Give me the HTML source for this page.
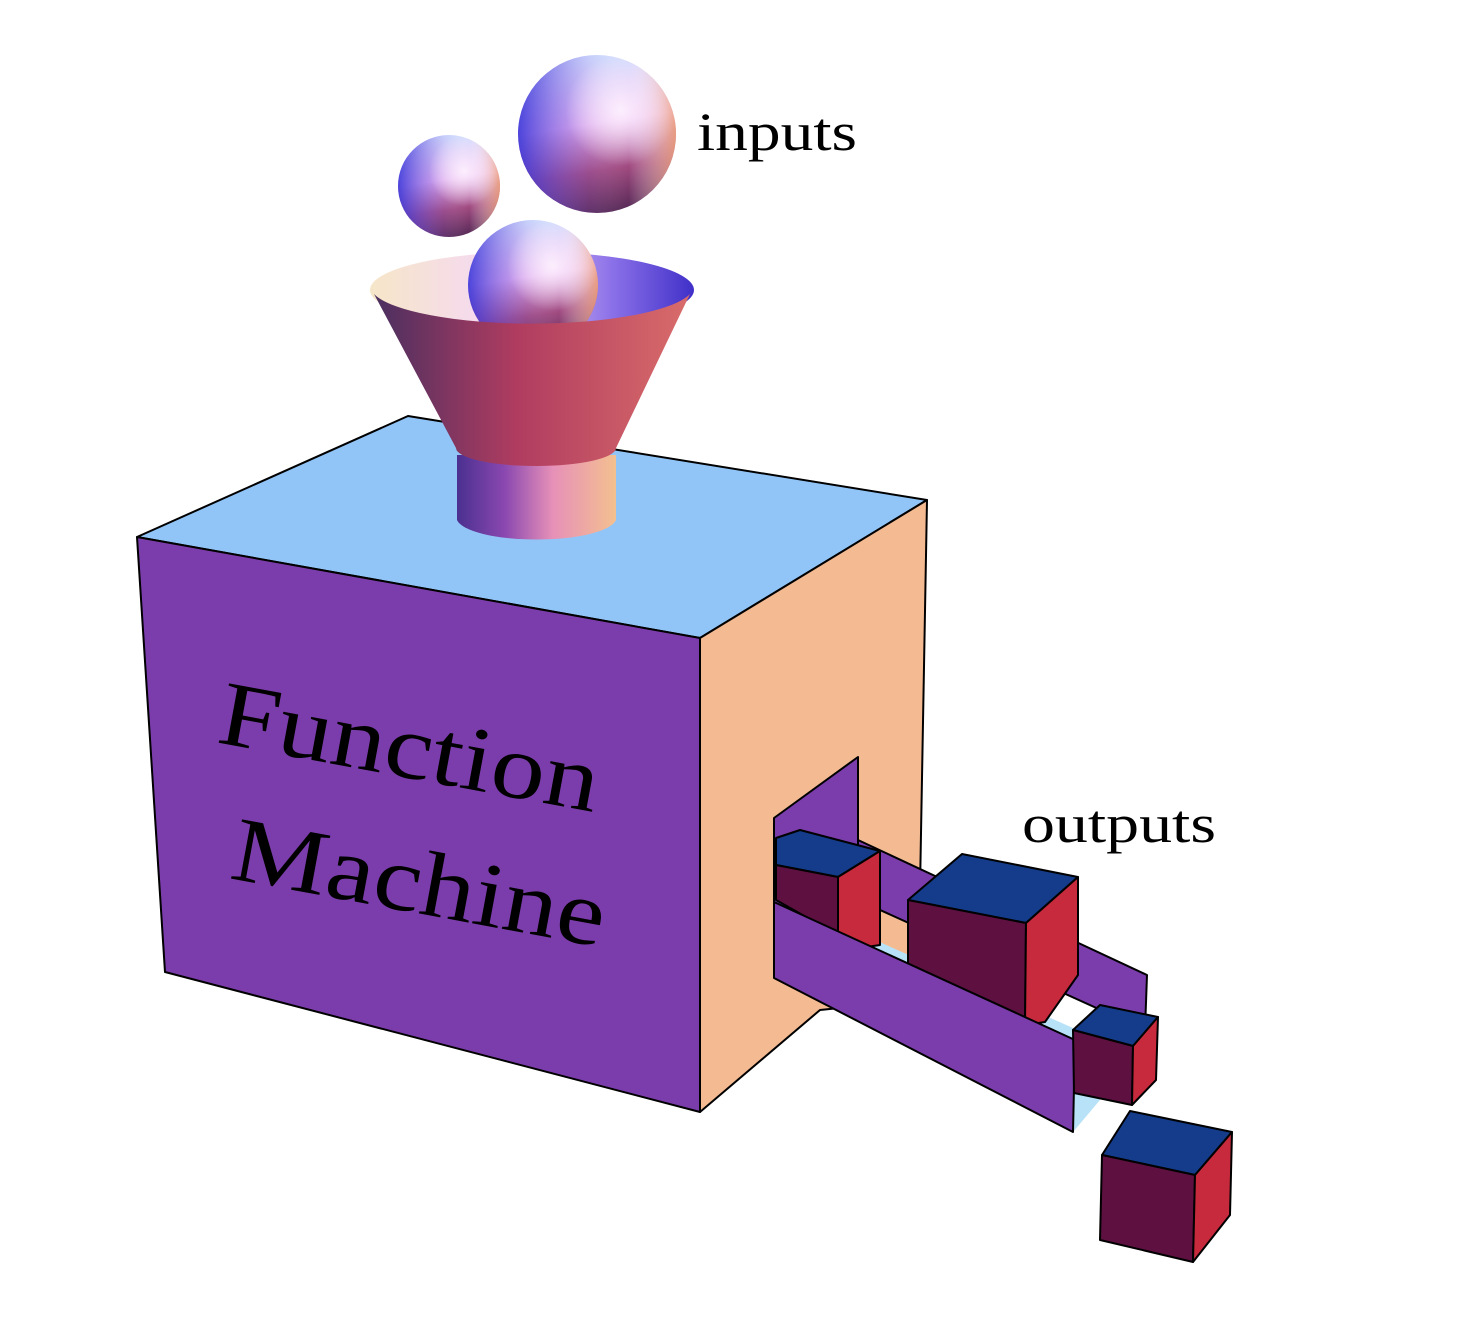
<!DOCTYPE html>
<html><head><meta charset="utf-8"><style>html,body{margin:0;padding:0;background:#fff}svg{display:block}</style></head>
<body>
<svg width="1470" height="1320" viewBox="0 0 1470 1320" xmlns="http://www.w3.org/2000/svg">
<defs>
<linearGradient id="sv" x1="0.3" y1="0" x2="0.45" y2="1">
<stop offset="0" stop-color="#d0e4ff"/>
<stop offset="0.45" stop-color="#e8b4f0"/>
<stop offset="0.75" stop-color="#a04a80"/>
<stop offset="1" stop-color="#5a2a58"/>
</linearGradient>
<linearGradient id="sh" x1="0" y1="0" x2="1" y2="0">
<stop offset="0" stop-color="#3030d8" stop-opacity="0.85"/>
<stop offset="0.45" stop-color="#8060e0" stop-opacity="0.15"/>
<stop offset="0.7" stop-color="#ffffff" stop-opacity="0"/>
<stop offset="1" stop-color="#f0a070" stop-opacity="0.8"/>
</linearGradient>
<radialGradient id="shl" cx="0.65" cy="0.35" r="0.35">
<stop offset="0" stop-color="#fff4ff" stop-opacity="0.9"/>
<stop offset="1" stop-color="#fff4ff" stop-opacity="0"/>
</radialGradient>
<linearGradient id="cone" x1="0" y1="0" x2="1" y2="0">
<stop offset="0" stop-color="#4a2f60"/>
<stop offset="0.45" stop-color="#b03c60"/>
<stop offset="1" stop-color="#d96c6a"/>
</linearGradient>
<linearGradient id="inner" x1="0" y1="0" x2="1" y2="0">
<stop offset="0" stop-color="#f6e6c8"/>
<stop offset="0.4" stop-color="#f5d8f5"/>
<stop offset="0.75" stop-color="#8a70e8"/>
<stop offset="1" stop-color="#4030c8"/>
</linearGradient>
<linearGradient id="cyl" x1="0" y1="0" x2="1" y2="0">
<stop offset="0" stop-color="#4a3090"/>
<stop offset="0.3" stop-color="#8a48b0"/>
<stop offset="0.6" stop-color="#e690b8"/>
<stop offset="1" stop-color="#f4c090"/>
</linearGradient>
</defs>
<g stroke="#000" stroke-width="2" stroke-linejoin="round">
<polygon points="137,537 408,416 927,500 700,638" fill="#92c5f7"/>
<polygon points="700,638 927,500 918,1000 820,1010 700,1112" fill="#f4bb92"/>
<polygon points="137,537 700,638 700,1112 165,972" fill="#7b3dab"/>
<polygon points="774,818 858,757 858,880 774,960" fill="#7b3dab"/>
<polygon points="858,840 1147,975 1145,1030 858,900" fill="#7b3dab"/>
<polygon points="830,920 1100,1040 1100,1100 1073,1132 830,1000" fill="#b8e2f8" stroke="none"/>
<polygon points="776,838 800,830 880,851 838,877 776,865" fill="#143c8a"/>
<polygon points="776,865 838,877 838,935 776,900" fill="#5e1040"/>
<polygon points="838,877 880,851 880,945 860,948 838,935" fill="#c62a3c"/>
<polygon points="908,900 962,854 1078,877 1026,923" fill="#143c8a"/>
<polygon points="908,900 1026,923 1025,1025 908,965" fill="#5e1040"/>
<polygon points="1026,923 1078,877 1078,975 1045,1022 1025,1025" fill="#c62a3c"/>
<polygon points="774,902 1075,1040 1073,1132 774,978" fill="#7b3dab"/>
<polygon points="1073,1030 1100,1005 1158,1017 1133,1046" fill="#143c8a"/>
<polygon points="1073,1030 1133,1046 1132,1105 1074,1093" fill="#5e1040"/>
<polygon points="1133,1046 1158,1017 1156,1080 1132,1105" fill="#c62a3c"/>
<polygon points="1102,1155 1130,1111 1232,1132 1195,1175" fill="#143c8a"/>
<polygon points="1102,1155 1195,1175 1193,1262 1100,1240" fill="#5e1040"/>
<polygon points="1195,1175 1232,1132 1230,1215 1193,1262" fill="#c62a3c"/>
</g>
<path d="M457,455 L457,520 A80,22 0 0 0 616,520 L616,455 Z" fill="url(#cyl)"/>
<ellipse cx="532" cy="290" rx="162" ry="38" fill="url(#inner)"/>
<g>
<circle cx="449" cy="186" r="51" fill="url(#sv)"/><circle cx="449" cy="186" r="51" fill="url(#sh)"/><circle cx="449" cy="186" r="51" fill="url(#shl)"/>
<circle cx="597" cy="134" r="79" fill="url(#sv)"/><circle cx="597" cy="134" r="79" fill="url(#sh)"/><circle cx="597" cy="134" r="79" fill="url(#shl)"/>
<circle cx="533" cy="285" r="65" fill="url(#sv)"/><circle cx="533" cy="285" r="65" fill="url(#sh)"/><circle cx="533" cy="285" r="65" fill="url(#shl)"/>
</g>
<path d="M374,294 A162,38 0 0 0 690,294 L616,448 A80,18 0 0 1 456,448 Z" fill="url(#cone)"/>
<g font-family="'Liberation Serif', serif" fill="#000">
<text x="697" y="150" font-size="54" textLength="160" lengthAdjust="spacingAndGlyphs">inputs</text>
<text x="1022" y="842" font-size="54" textLength="194" lengthAdjust="spacingAndGlyphs">outputs</text>
<text transform="translate(215,742) rotate(10.5)" font-size="92" textLength="385" lengthAdjust="spacingAndGlyphs">Function</text>
<text transform="translate(228,878) rotate(10.5)" font-size="92" textLength="378" lengthAdjust="spacingAndGlyphs">Machine</text>
</g>
</svg>
</body></html>
